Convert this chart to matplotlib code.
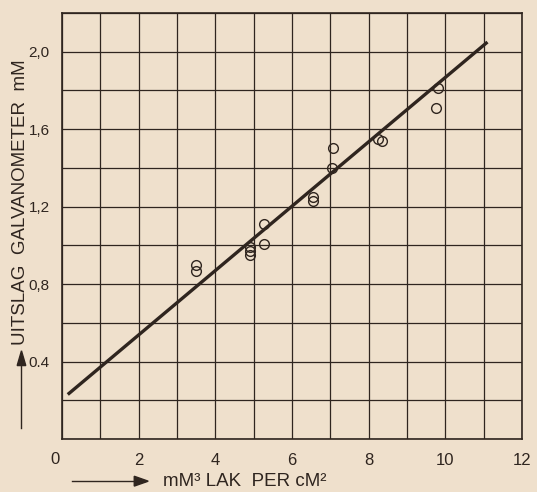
import matplotlib.pyplot as plt

lak = [3.5, 3.5, 4.9, 4.9, 4.9, 5.28, 5.28, 6.55, 6.55, 7.05, 7.08, 8.24, 8.34, 9.77, 9.82]
uitslag = [0.90, 0.87, 0.99, 0.97, 0.95, 1.11, 1.005, 1.25, 1.23, 1.40, 1.505, 1.55, 1.54, 1.71, 1.815]

# Fitted straight line, drawn between its two end points
line_x = [0.15, 11.1]
line_y = [0.23, 2.05]

x_ticks = list(range(13))
x_labels = ["", "", "2", "", "4", "", "6", "", "8", "", "10", "", "12"]
y_ticks = [round(0.2 * i, 1) for i in range(12)]
y_labels = ["", "", "0.4", "", "0,8", "", "1,2", "", "1,6", "", "2,0", ""]

PAPER = "#EFE0CC"
INK = "#2F251F"

plt.rcParams["font.family"] = ["Liberation Sans", "DejaVu Sans"]

fig = plt.figure(figsize=(5.37, 4.92), dpi=100, facecolor=PAPER)
ax = fig.add_axes([0.1155, 0.1077, 0.8565, 0.8659], facecolor=PAPER)

ax.set_xlim(0, 12)
ax.set_ylim(0, 2.2)
ax.set_xticks(x_ticks)
ax.set_xticklabels(x_labels, fontsize=12)
ax.set_yticks(y_ticks)
ax.set_yticklabels(y_labels, fontsize=11)
ax.tick_params(axis="x", length=0, colors=INK, pad=10)
ax.tick_params(axis="y", length=0, colors=INK, pad=9)
ax.grid(True, color=INK, linewidth=0.9)
ax.set_axisbelow(True)
for side in ax.spines.values():
    side.set_color(INK)
    side.set_linewidth(1.2)

ax.plot(line_x, line_y, color=INK, linewidth=2.4, solid_capstyle="butt")
ax.plot(lak, uitslag, linestyle="none", marker="o", markersize=7,
        markerfacecolor="none", markeredgecolor=INK, markeredgewidth=1.0)

# the lone "0" at the corner
ax.text(-0.18, -0.108, "0", ha="center", va="center", fontsize=12, color=INK)

# axis titles with their arrows, as in the original
fig.text(0.303, 0.021, "mM\u00b3 LAK  PER cM\u00b2", fontsize=13.5, color=INK, va="center")
fig.add_artist(plt.Line2D([0.134, 0.27], [0.022, 0.022], color=INK, linewidth=1.0))
fig.patches.append(plt.Polygon([[0.276, 0.022], [0.250, 0.032], [0.250, 0.012]],
                               closed=True, color=INK, transform=fig.transFigure))

fig.text(0.038, 0.298, "UITSLAG  GALVANOMETER  mM", rotation=90, fontsize=13.5,
         color=INK, ha="center", va="bottom")
fig.add_artist(plt.Line2D([0.040, 0.040], [0.13, 0.27], color=INK, linewidth=1.0))
fig.patches.append(plt.Polygon([[0.040, 0.287], [0.032, 0.257], [0.048, 0.257]],
                               closed=True, color=INK, transform=fig.transFigure))

fig.savefig("out.png", dpi=100, facecolor=PAPER)
